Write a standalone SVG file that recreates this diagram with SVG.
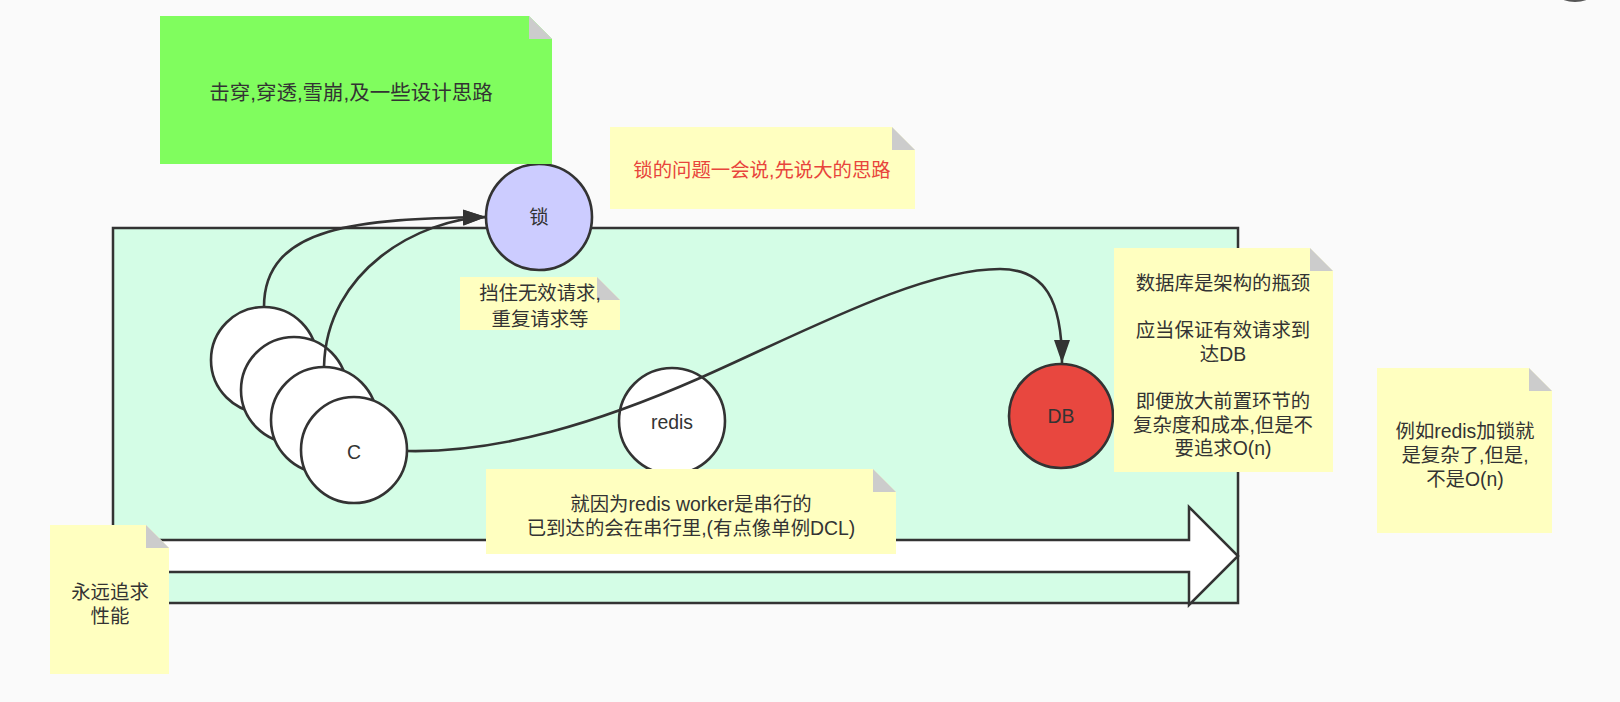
<svg xmlns="http://www.w3.org/2000/svg" width="1620" height="702" viewBox="0 0 1620 702">
<defs>
<style>
text{font-family:'Liberation Sans','Noto Sans CJK SC',sans-serif;font-size:19.4px;fill:#333;text-anchor:middle}
.note{fill:#ffffc0}
.fold{fill:#cccccc}
.circ{stroke:#333;stroke-width:2.6}
.conn{fill:none;stroke:#333;stroke-width:2.6}
.red{fill:#e8453c}
</style>
<marker id="ah" markerUnits="userSpaceOnUse" markerWidth="24" markerHeight="16" refX="23" refY="8" orient="auto">
<path d="M0,0 L23,8 L0,16 Z" fill="#333"/>
</marker>
</defs>
<rect x="0" y="0" width="1620" height="702" fill="#fafafa"/>
<ellipse cx="1575" cy="-4" rx="15" ry="6" fill="#555"/>

<g id="container">
<rect x="113" y="228" width="1125" height="375" fill="#d4fde6" stroke="#333" stroke-width="2.5"/>
</g>
<g id="bigArrow">
<path d="M113,540 L1189,540 L1189,507 L1238,556 L1189,605 L1189,572 L113,572 Z" fill="#ffffff" stroke="#333" stroke-width="2.5" stroke-linejoin="miter"/>
</g>

<g id="client1"><circle class="circ" cx="264" cy="360" r="53" fill="#fff"/></g>
<g id="client2"><circle class="circ" cx="294" cy="390" r="53" fill="#fff"/></g>
<g id="client3"><circle class="circ" cx="324" cy="420" r="53" fill="#fff"/></g>
<g id="clientC"><circle class="circ" cx="354" cy="450" r="53" fill="#fff"/><text x="354" y="459">C</text></g>
<g id="lock"><circle class="circ" cx="539" cy="217" r="53" fill="#ccccff"/><text x="539" y="224">锁</text></g>
<g id="redis"><circle class="circ" cx="672" cy="421" r="53" fill="#fff"/><text x="672" y="429">redis</text></g>
<g id="db"><circle class="circ" cx="1061" cy="416" r="52" fill="#e8473f"/><text x="1061" y="423">DB</text></g>

<g id="connectors">
<path class="conn" d="M264,307 C264,225 360,219 486,217" marker-end="url(#ah)"/>
<path class="conn" d="M324,367 C326,270 420,219 486,217" marker-end="url(#ah)"/>
<path class="conn" d="M407,451 C500,453 600,422 700,378 C800,334 920,269 1000,269 C1045,269 1062,300 1062,363" marker-end="url(#ah)"/>
</g>

<g id="noteTitle">
<polygon points="160,16 529,16 552,39 552,164 160,164" fill="#80fd5e"/>
<polygon class="fold" points="529,16 552,39 529,39"/>
<text x="351" y="100" style="font-size:20.5px">击穿,穿透,雪崩,及一些设计思路</text>
</g>
<g id="noteLock">
<polygon class="note" points="610,127 892,127 915,150 915,209 610,209"/>
<polygon class="fold" points="892,127 915,150 892,150"/>
<text x="762" y="177" class="red">锁的问题一会说,先说大的思路</text>
</g>
<g id="noteBlock">
<polygon class="note" points="460,277 597,277 620,300 620,330 460,330"/>
<polygon class="fold" points="597,277 620,300 597,300"/>
<text x="540" y="300">挡住无效请求,</text>
<text x="540" y="326">重复请求等</text>
</g>
<g id="noteDB">
<polygon class="note" points="1114,248 1310,248 1333,271 1333,472 1114,472"/>
<polygon class="fold" points="1310,248 1333,271 1310,271"/>
<text x="1223" y="290">数据库是架构的瓶颈</text>
<text x="1223" y="337">应当保证有效请求到</text>
<text x="1223" y="361">达DB</text>
<text x="1223" y="408">即便放大前置环节的</text>
<text x="1223" y="432">复杂度和成本,但是不</text>
<text x="1223" y="455">要追求O(n)</text>
</g>
<g id="noteRedisLock">
<polygon class="note" points="1377,368 1529,368 1552,391 1552,533 1377,533"/>
<polygon class="fold" points="1529,368 1552,391 1529,391"/>
<text x="1465" y="438">例如redis加锁就</text>
<text x="1465" y="462">是复杂了,但是,</text>
<text x="1465" y="486">不是O(n)</text>
</g>
<g id="noteSerial">
<polygon class="note" points="486,469 873,469 896,492 896,554 486,554"/>
<polygon class="fold" points="873,469 896,492 873,492"/>
<text x="691" y="511">就因为redis worker是串行的</text>
<text x="691" y="535">已到达的会在串行里,(有点像单例DCL)</text>
</g>
<g id="notePerf">
<polygon class="note" points="50,525 146,525 169,548 169,674 50,674"/>
<polygon class="fold" points="146,525 169,548 146,548"/>
<text x="110" y="599">永远追求</text>
<text x="110" y="623">性能</text>
</g>
</svg>
